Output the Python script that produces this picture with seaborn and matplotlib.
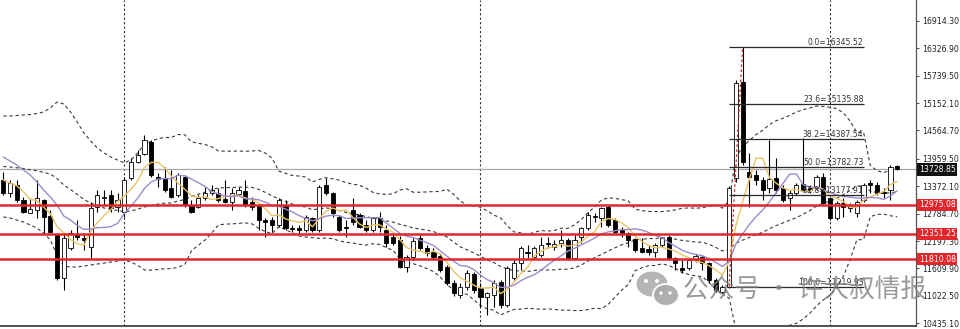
import numpy as np
import pandas as pd
import matplotlib
matplotlib.use("Agg")
import matplotlib.pyplot as plt
import matplotlib.transforms as mtransforms
from matplotlib.patches import Ellipse
import seaborn as sns

# ---------------- data ----------------
opens = [13504, 13226, 13397, 13076, 12797, 12861, 13076, 12733, 12326, 11406,
         12048, 12347, 12262, 12069, 12926, 13118, 13183, 12926, 12819, 13547,
         13889, 14060, 14317, 13568, 13547, 13333, 13183, 13568, 12968, 12926,
         13118, 13226, 13226, 13097, 13033, 13204, 13268, 13033, 12968, 12647,
         12647, 12540, 12968, 12476, 12476, 12433, 12690, 12433, 13397, 13226,
         12712, 12497, 12861, 12754, 12540, 12433, 12690, 12433, 12283, 12219,
         11641, 11855, 12262, 12048, 11962, 11876, 11641, 11299, 11042, 11213,
         11491, 11192, 10999, 11042, 11320, 10828, 11406, 11727, 11962, 11855,
         11898, 12155, 12069, 12155, 12219, 11834, 12283, 12476, 12733, 12690,
         12926, 12647, 12433, 12369, 12240, 12048, 12026, 11962, 12112, 12283,
         11834, 11620, 11620, 11791, 11855, 11727, 11363, 11106, 11220, 13547,
         15602, 13675, 13611, 13504, 13333, 13547, 13333, 13118, 13226, 13418,
         13333, 13333, 13568, 13118, 12690, 13011, 12904, 12797, 13076, 13440,
         13397, 13247, 13290, 13804]
highs = [13675, 13504, 13504, 13140, 13118, 13504, 13090, 12861, 12369, 12369,
         12433, 12647, 12369, 13033, 13290, 13290, 13290, 13226, 13568, 13975,
         14146, 14467, 14360, 13654, 13782, 13718, 13654, 13611, 13076, 13183,
         13354, 13397, 13333, 13504, 13333, 13354, 13504, 13140, 13011, 12690,
         12712, 13118, 13076, 12540, 12540, 12754, 12712, 13397, 13547, 13247,
         12754, 12647, 13118, 12797, 12647, 12712, 12819, 12540, 12390, 12305,
         11898, 12262, 12326, 12112, 12048, 11941, 11684, 11363, 11299, 11577,
         11534, 11299, 11106, 11363, 11363, 11662, 11791, 12091, 12112, 12091,
         12283, 12283, 12219, 12433, 12262, 12326, 12497, 12819, 12797, 12926,
         12968, 12690, 12497, 12390, 12262, 12262, 12112, 12155, 12283, 12326,
         11855, 11791, 11834, 11919, 11898, 11748, 11406, 11256, 13375, 15645,
         16345.52, 14082, 13718, 13568, 14360, 13975, 13397, 13290, 13440, 14403,
         13397, 13611, 13654, 13140, 13054, 13118, 13011, 13076, 13440, 13504,
         13461, 13333, 13825, 13825]
lows = [13183, 13140, 13033, 12797, 12790, 12690, 12369, 12369, 11363, 11149,
        12005, 12219, 12005, 11834, 12819, 12968, 12819, 12819, 12712, 13504,
        13868, 14039, 13568, 13354, 13247, 13118, 13140, 12926, 12797, 12904,
        13076, 13183, 13033, 13011, 12861, 13183, 12926, 12861, 12433, 12283,
        12390, 12497, 12433, 12390, 12369, 12390, 12390, 12390, 13183, 12712,
        12390, 12283, 12540, 12476, 12390, 12390, 12390, 12069, 12112, 11620,
        11534, 11791, 12005, 11876, 11791, 11534, 11256, 11020, 10977, 11149,
        11085, 10785, 10613, 10785, 10763, 10785, 11363, 11577, 11834, 11812,
        11855, 12048, 12005, 12069, 11791, 11791, 12155, 12433, 12604, 12497,
        12497, 12369, 12283, 12069, 11962, 11941, 11898, 11855, 12069, 11791,
        11577, 11513, 11577, 11748, 11577, 11320, 11106, 11085, 11190, 13461,
        13825, 12926, 13397, 13076, 13226, 13226, 13033, 12861, 13183, 13247,
        13226, 13290, 12968, 12647, 12647, 12712, 12819, 12712, 13033, 13226,
        13183, 13118, 13076, 13718]
closes = [13226, 13440, 13076, 12819, 12883, 13118, 12712, 12390, 11406, 12262,
          12369, 12283, 12219, 12904, 13183, 13140, 12904, 13076, 13504, 13889,
          14039, 14360, 13611, 13525, 13290, 13140, 13611, 12968, 12819, 13118,
          13226, 13290, 13076, 13033, 13226, 13290, 12968, 12926, 12647, 12604,
          12540, 13076, 12476, 12455, 12433, 12712, 12433, 13354, 13226, 12797,
          12433, 12476, 12604, 12497, 12433, 12690, 12497, 12155, 12155, 11641,
          11855, 12198, 12048, 11941, 11855, 11577, 11299, 11085, 11213, 11513,
          11149, 10999, 11085, 11299, 10828, 11620, 11727, 12048, 11941, 12048,
          12112, 12133, 12133, 12219, 11834, 12219, 12476, 12754, 12712, 12904,
          12540, 12390, 12369, 12219, 12005, 11962, 11962, 12112, 12262, 11834,
          11727, 11577, 11791, 11876, 11727, 11363, 11149, 11213, 13333, 15580,
          13889, 13568, 13504, 13290, 13525, 13290, 13076, 13226, 13397, 13290,
          13290, 13568, 13011, 12690, 13011, 12926, 12968, 13033, 13397, 13397,
          13226, 13226, 13782, 13728.85]

# indicator values at the left edge (history before the first visible bar)
ma_fast_warmup = [13504, 13440, 13380, 13250]
ma_slow_warmup = [13996, 13911, 13825, 13718, 13611, 13461, 13290, 13140, 12968]
bb_upper_warmup = [14874, 14874, 14885, 14895, 14906, 14928, 14960, 15045, 15174, 15131,
                   14960, 14745, 14510, 14339, 14189, 14082, 13996, 13932, 13868]
bb_lower_warmup = [12712, 12690, 12647, 12604, 12540, 12476, 12369, 12219, 11898, 11662,
                   11641, 11641, 11662, 11684, 11705, 11727, 11748, 11770, 11791]

support_levels = [12975.08, 12351.25, 11810.08]
current_price = 13728.85
axis_ticks = [16914.30, 16326.90, 15739.50, 15152.10, 14564.70, 13959.50,
              13372.10, 12784.70, 12197.30, 11609.90, 11022.50, 10435.10]
separator_bars = [18, 71, 123]
fib_high = 16345.52
fib_low = 11219.93
fib_levels = [0.0, 23.6, 38.2, 50.0, 61.8, 100.0]
fib_start_bar, fib_high_bar, fib_end_bar = 108, 110, 128
watermark = "公众号 · 许大叔情报"

# ---------------- figure ----------------
sns.set_theme(style="white")
plt.rcParams['font.family'] = ['DejaVu Sans']

W, H = 960, 329
fig = plt.figure(figsize=(W / 100, H / 100), dpi=100)
fig.patch.set_facecolor("white")
ax = fig.add_axes([0, 3 / H, 916 / W, 326 / H])
ax.set_facecolor("white")

n = len(closes)
idx = np.arange(n)
o = np.array(opens, float)
h = np.array(highs, float)
l = np.array(lows, float)
c = np.array(closes, float)

# indicators
cs = pd.Series(c)
ma_fast = cs.rolling(5).mean().to_numpy()
ma_fast[:len(ma_fast_warmup)] = ma_fast_warmup
ma_slow = cs.rolling(10).mean().to_numpy()
ma_slow[:len(ma_slow_warmup)] = ma_slow_warmup
mid = cs.rolling(20).mean()
sd = cs.rolling(20).std(ddof=0)
upper = (mid + 2 * sd).to_numpy()
lower = (mid - 2 * sd).to_numpy()
upper[:len(bb_upper_warmup)] = bb_upper_warmup
lower[:len(bb_lower_warmup)] = bb_lower_warmup
middle = mid.to_numpy()
middle[:len(bb_upper_warmup)] = (np.array(bb_upper_warmup) + np.array(bb_lower_warmup)) / 2

dash = (0, (3, 2.5))
for series in (upper, middle, lower):
    sns.lineplot(x=idx, y=series, ax=ax, color="#3a3a3a", lw=0.8,
                 linestyle=dash, zorder=2)

# period separators
for s in separator_bars:
    ax.axvline(s, color="#333333", lw=0.8, linestyle=(0, (2, 2)), zorder=1)

# current price line
ax.axhline(current_price, color="#a9a9a9", lw=0.9, zorder=1.5)

# candles
ax.vlines(idx, l, h, color="black", lw=0.8, zorder=3)
bottoms = np.minimum(o, c)
heights = np.maximum(np.abs(c - o), 12)
colors = ["white" if cc >= oo else "black" for oo, cc in zip(o, c)]
ax.bar(idx, heights, bottom=bottoms, width=0.62, color=colors,
       edgecolor="black", linewidth=0.6, zorder=4)

# moving averages
sns.lineplot(x=idx, y=ma_fast, ax=ax, color="#e8c466", lw=1.0, zorder=5)
sns.lineplot(x=idx, y=ma_slow, ax=ax, color="#9d8bcb", lw=1.0, zorder=5)

# support / resistance lines
for lv in support_levels:
    ax.axhline(lv, color="#e3262b", lw=1.8, zorder=6)

# fibonacci
ax.plot([fib_start_bar, fib_high_bar], [fib_low, fib_high], color="#d02020",
        lw=0.9, linestyle=(0, (2, 2)), zorder=6)
for lvl in fib_levels:
    price = fib_high - (fib_high - fib_low) * lvl / 100.0
    ax.hlines(price, fib_start_bar, fib_end_bar, color="#2a2a2a", lw=0.9, zorder=6)
    ax.text(fib_end_bar, price, f"{lvl:.1f}={price:.2f}", ha="right", va="bottom",
            fontsize=5.6, color="#333333", zorder=7)

# axes
ax.set_xlim(-0.49, 135.8)
ax.set_ylim(10378, 17357.5)
ax.set_xticks([])
ax.yaxis.tick_right()
ax.set_yticks(axis_ticks)
ax.set_yticklabels([f"{t:.2f}" for t in axis_ticks])
ax.tick_params(axis="y", labelsize=5.6, length=2.5, width=0.6, pad=2,
               colors="#222222", right=True, left=False)
for side in ("top", "left"):
    ax.spines[side].set_visible(False)
ax.spines["right"].set_color("#555555")
ax.spines["right"].set_linewidth(0.9)
ax.spines["bottom"].set_color("#444444")
ax.spines["bottom"].set_linewidth(1.3)
ax.set_ylabel("")
ax.set_xlabel("")

# price boxes on axis
trans = mtransforms.blended_transform_factory(ax.transAxes, ax.transData)
for lv in support_levels:
    ax.text(1.003, lv, f"{lv:.2f}", transform=trans, ha="left", va="center",
            fontsize=5.6, color="white", zorder=8, clip_on=False,
            bbox=dict(boxstyle="square,pad=0.2", fc="#e3262b", ec="none"))
ax.text(1.003, current_price, f"{current_price:.2f}", transform=trans, ha="left",
        va="center", fontsize=5.6, color="white", zorder=8, clip_on=False,
        bbox=dict(boxstyle="square,pad=0.2", fc="#111111", ec="none"))

# watermark (WeChat style)
def fx(px):
    return px / W

def fy(py):
    return 1 - py / H

fig.add_artist(Ellipse((fx(652), fy(284)), 31 / W, 25 / H, transform=fig.transFigure,
                       fc="#a8a8a8", ec="none", alpha=0.85, zorder=20))
fig.add_artist(Ellipse((fx(666), fy(295)), 26 / W, 22 / H, transform=fig.transFigure,
                       fc="#a8a8a8", ec="white", lw=1.5, alpha=0.9, zorder=21))
for ex, ey, r in [(646, 281, 4), (657, 281, 4), (661, 293, 3.4), (670, 293, 3.4)]:
    fig.add_artist(Ellipse((fx(ex), fy(ey)), r / W, r / H, transform=fig.transFigure,
                           fc="white", ec="none", zorder=22))
fig.text(fx(683), fy(291), watermark, fontsize=18.5, color="#808080", alpha=0.8,
         ha="left", va="center", zorder=22,
         family=["Noto Sans CJK SC", "DejaVu Sans"])

fig.savefig("out.png", dpi=100, facecolor="white")
